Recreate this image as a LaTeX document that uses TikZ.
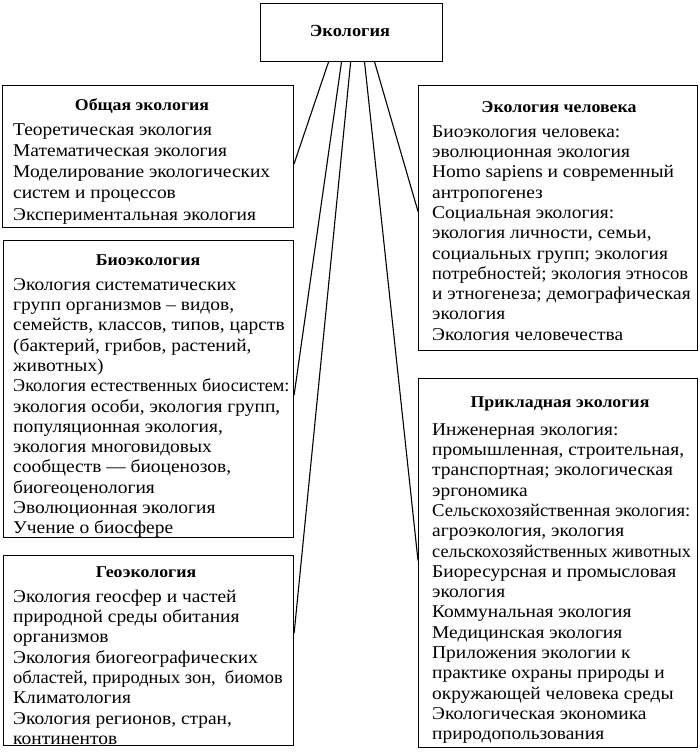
\documentclass[tikz,border=0pt]{standalone}
\usepackage{fontspec}
\usepackage{graphicx}
\setmainfont[FakeStretch=1.08]{Liberation Serif}
\usetikzlibrary{calc}
\newcommand{\sq}[2]{\scalebox{#1}[1]{#2}}
\tikzset{
  box/.style={draw, line width=1.1pt, rectangle, inner sep=0pt, anchor=north west},
  ttl/.style={font=\bfseries\fontsize{16.5}{18}\selectfont, inner sep=0pt, anchor=base},
  items/.style={font=\fontsize{18}{20.3}\selectfont, align=left, inner sep=0pt, anchor=north west},
  conn/.style={line width=1.1pt}
}
\begin{document}
\begin{tikzpicture}[x=1pt,y=-1pt]
\useasboundingbox (0,0) rectangle (699,752);
% boxes
\node[box, minimum width=182pt, minimum height=58pt] (top) at (260,3) {};
\node[box, minimum width=291pt, minimum height=142pt] (gen) at (2,85) {};
\node[box, minimum width=290pt, minimum height=297pt] (bio) at (3,240) {};
\node[box, minimum width=290pt, minimum height=190pt] (geo) at (3,555) {};
\node[box, minimum width=279pt, minimum height=265pt] (hum) at (418,85) {};
\node[box, minimum width=279pt, minimum height=369pt] (app) at (418,378) {};
% titles
\node[ttl, font=\bfseries\fontsize{17}{19}\selectfont] (ttop) at (350,37) {Экология};
\node[ttl] (tgen) at (142,110) {Общая экология};
\node[ttl] (tbio) at (148,265) {Биоэкология};
\node[ttl] (tgeo) at (146,577) {Геоэкология};
\node[ttl] (thum) at (559,112) {Экология человека};
\node[ttl] (tapp) at (560,407) {Прикладная экология};
% items (top = first baseline - strut height)
\node[items, font=\fontsize{18}{21.2}\selectfont] (igen) at (13,120.2) {\rule{0pt}{14.85pt}Теоретическая экология\\Математическая экология\\Моделирование экологических\\систем и процессов\\Экспериментальная экология};
\node[items] (ibio) at (13,275.8) {\strut Экология систематических\\групп организмов -- видов,\\семейств, классов, типов, царств\\(бактерий, грибов, растений,\\животных)\\\sq{0.94}{Экология естественных биосистем:}\\экология особи, экология групп,\\популяционная экология,\\экология многовидовых\\сообществ --- биоценозов,\\биогеоценология\\Эволюционная экология\\Учение о биосфере};
\node[items] (igeo) at (13,587.8) {\strut Экология геосфер и частей\\природной среды обитания\\организмов\\Экология биогеографических\\\sq{0.95}{областей, природных зон,\ \ биомов}\\Климатология\\Экология регионов, стран,\\континентов};
\node[items] (ihum) at (432,122.8) {\strut Биоэкология человека:\\эволюционная экология\\Homo sapiens и современный\\антропогенез\\Социальная экология:\\экология личности, семьи,\\социальных групп; экология\\\sq{0.96}{потребностей; экология этносов}\\и этногенеза; демографическая\\экология\\Экология человечества};
\node[items] (iapp) at (432,420.8) {\strut Инженерная экология:\\промышленная, строительная,\\транспортная; экологическая\\эргономика\\\sq{0.96}{Сельскохозяйственная экология:}\\агроэкология, экология\\\sq{0.94}{сельскохозяйственных животных}\\Биоресурсная и промысловая\\экология\\Коммунальная экология\\Медицинская экология\\Приложения экологии к\\практике охраны природы и\\окружающей человека среды\\Экологическая экономика\\природопользования};
% connectors
\draw[conn] ($(top.south west)!0.374!(top.south east)$) -- ($(gen.north east)!0.55!(gen.south east)$);
\draw[conn] ($(top.south west)!0.445!(top.south east)$) -- ($(bio.north east)!0.52!(bio.south east)$);
\draw[conn] ($(top.south west)!0.495!(top.south east)$) -- ($(geo.north east)!0.41!(geo.south east)$);
\draw[conn] ($(top.south west)!0.571!(top.south east)$) -- ($(app.north west)!0.493!(app.south west)$);
\draw[conn] ($(top.south west)!0.626!(top.south east)$) -- ($(hum.north west)!0.475!(hum.south west)$);
\end{tikzpicture}
\end{document}
